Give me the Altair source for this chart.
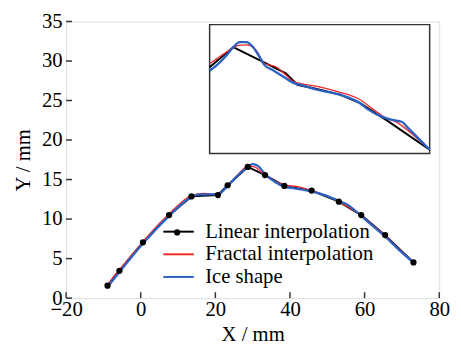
import altair as alt
import pandas as pd

SERIES = ["Linear interpolation", "Fractal interpolation", "Ice shape"]
COLORS = ["#000000", "#ee2a2a", "#2a62c4"]

x_ticks = [-20, 0, 20, 40, 60, 80]
y_ticks = [0, 5, 10, 15, 20, 25, 30, 35]

# main chart
lin_x = [-8.9, -5.7, 0.6, 7.6, 13.6, 20.7, 23.3, 28.7, 33.3, 38.5, 45.8, 53.1, 59.1, 65.5, 73.1]
lin_y = [1.58, 3.45, 7.06, 10.5, 12.87, 13.04, 14.28, 16.6, 15.57, 14.2, 13.6, 12.2, 10.5, 7.97, 4.52]

frac_x = [-8.9, -7.5, -5.7, -2.5, 0.6, 4.0, 7.6, 10.5, 13.6, 17.0, 20.7, 23.3, 26.0, 28.7, 30.5,
          33.3, 36.0, 38.5, 42.0, 45.8, 49.5, 53.1, 56.0, 59.1, 62.0, 65.5, 69.0, 73.1]
frac_y = [1.58, 2.6, 3.6, 5.45, 7.15, 8.95, 10.65, 11.95, 13.0, 13.25, 13.15, 14.3, 15.6, 16.7, 16.6,
          15.5, 14.8, 14.3, 14.1, 13.6, 13.0, 12.2, 11.4, 10.5, 9.3, 7.95, 6.3, 4.52]

ice_x = [-8.9, -5.7, 0.6, 7.6, 11.0, 13.6, 15.5, 20.7, 23.3, 26.0, 28.7, 30.0, 31.5, 33.3, 36.0,
         38.5, 41.0, 45.8, 49.5, 53.1, 55.5, 59.1, 62.0, 65.5, 69.0, 73.1]
ice_y = [1.4, 3.3, 6.9, 10.4, 11.9, 12.8, 13.1, 13.15, 14.2, 15.5, 16.6, 16.95, 16.7, 15.7, 14.7,
         14.1, 13.9, 13.5, 13.0, 12.3, 11.8, 10.4, 9.2, 7.8, 6.2, 4.5]

# inset (in main-axis units)
inset_box_x = [18.47, 77.44]
inset_box_y = [18.3, 34.6]

in_lin_x = [18.47, 24.81, 31.84, 38.89, 41.98, 46.36, 53.41, 58.69, 66.16, 77.44]
in_lin_y = [29.2, 31.76, 30.10, 28.43, 26.99, 26.56, 25.74, 24.69, 22.42, 18.77]

in_frac_x = [18.47, 20.40, 24.36, 26.13, 28.32, 30.96, 33.16, 36.25, 38.89, 41.08, 42.85, 48.13,
             52.54, 58.69, 61.78, 65.29, 68.80, 70.04, 77.44]
in_frac_y = [29.64, 30.30, 31.54, 31.97, 32.04, 31.35, 29.68, 29.27, 28.23, 27.33, 27.15, 26.69,
             26.15, 25.12, 24.07, 22.91, 22.20, 21.79, 18.77]

in_ice_x = [18.47, 20.40, 23.04, 24.81, 26.55, 28.32, 30.09, 31.84, 33.16, 35.37, 38.89, 41.08,
            42.85, 47.26, 53.41, 58.69, 60.88, 65.29, 67.40, 70.04, 71.37, 77.44]
in_ice_y = [28.77, 29.48, 30.72, 31.76, 32.38, 32.38, 31.76, 30.51, 29.48, 28.85, 27.81, 27.19,
            26.99, 26.36, 25.74, 24.69, 23.87, 22.83, 22.54, 22.29, 21.67, 18.77]


def frame(xs, ys, series, part):
    return pd.DataFrame({"x": xs, "y": ys, "series": series, "part": part})


lin_df = pd.concat([frame(lin_x, lin_y, SERIES[0], "main"),
                    frame(in_lin_x, in_lin_y, SERIES[0], "inset")], ignore_index=True)
frac_df = pd.concat([frame(frac_x, frac_y, SERIES[1], "main"),
                     frame(in_frac_x, in_frac_y, SERIES[1], "inset")], ignore_index=True)
ice_df = pd.concat([frame(ice_x, ice_y, SERIES[2], "main"),
                    frame(in_ice_x, in_ice_y, SERIES[2], "inset")], ignore_index=True)
pts_df = frame(lin_x, lin_y, SERIES[0], "main")
pts_df["marker"] = "dot"
box_df = pd.DataFrame({"x": [inset_box_x[0]], "x2": [inset_box_x[1]],
                       "y": [inset_box_y[0]], "y2": [inset_box_y[1]]})
xt_df = pd.DataFrame({"x": x_ticks})
yt_df = pd.DataFrame({"y": y_ticks})

FONT = "Liberation Serif"
PLOT_W, PLOT_H = 379, 281
xs = alt.Scale(domain=[-20, 80], nice=False, zero=False)
ys = alt.Scale(domain=[0, 35], nice=False, zero=False)

axis_common = dict(domain=False, grid=False, ticks=False, tickSize=0,
                   labelFont=FONT, labelFontSize=21, labelColor="black",
                   titleFont=FONT, titleFontSize=21, titleFontWeight="normal",
                   titleColor="black", labelFlush=False, labelOverlap=False)

x_enc = alt.X("x:Q", scale=xs,
              axis=alt.Axis(values=x_ticks, title="X / mm", labelPadding=1, titlePadding=4,
                            **axis_common))
y_enc = alt.Y("y:Q", scale=ys,
              axis=alt.Axis(values=y_ticks, title="Y / mm", labelPadding=4, titlePadding=8,
                            **axis_common))

color_enc = alt.Color(
    "series:N",
    scale=alt.Scale(domain=SERIES, range=COLORS),
    legend=alt.Legend(orient="none", legendX=103.75, legendY=203, title=None,
                      symbolType="M-2,0L2,0", symbolSize=240, symbolStrokeWidth=2,
                      labelFont=FONT, labelFontSize=21, labelColor="black", labelLimit=400,
                      labelOffset=16.5, rowPadding=1, padding=0),
)


def line_layer(df, width, interp):
    return alt.Chart(df).mark_line(strokeWidth=width, interpolate=interp).encode(
        x=x_enc, y=y_enc, color=color_enc, detail="part:N")


# inward tick marks along the bottom and left edges
xtick_layer = alt.Chart(xt_df).mark_rule(color="#333333", strokeWidth=1.5).encode(
    x=x_enc, y=alt.value(PLOT_H), y2=alt.value(PLOT_H - 6))
ytick_layer = alt.Chart(yt_df).mark_rule(color="#333333", strokeWidth=1.5).encode(
    y=y_enc, x=alt.value(0), x2=alt.value(6))

box = alt.Chart(box_df).mark_rect(fillOpacity=0, stroke="#333333", strokeWidth=1.5).encode(
    x=x_enc, x2="x2:Q", y=y_enc, y2="y2:Q")

black = line_layer(lin_df, 2, "linear")
red = line_layer(frac_df, 1.3, "monotone")
blue = line_layer(ice_df, 2.3, "monotone")

points = alt.Chart(pts_df).mark_point(filled=True, size=40, color="black", opacity=1).encode(
    x=x_enc, y=y_enc,
    shape=alt.Shape("marker:N", scale=alt.Scale(range=["circle"]),
                    legend=alt.Legend(orient="none", legendX=109.3, legendY=210.8, title=None,
                                      labelExpr="''", symbolSize=40, symbolFillColor="black",
                                      symbolStrokeColor="black", symbolStrokeWidth=0,
                                      labelFontSize=6, padding=0)),
)

chart = alt.layer(xtick_layer, ytick_layer, box, black, red, blue, points).properties(
    width=PLOT_W, height=PLOT_H,
    autosize=alt.AutoSizeParams(type="none"),
    padding={"left": 59, "top": 11, "right": 14, "bottom": 49},
).configure_view(stroke="#333333", strokeWidth=1.5).configure(font=FONT)

chart.save("out.html", embed_options={"renderer": "svg", "actions": False})
